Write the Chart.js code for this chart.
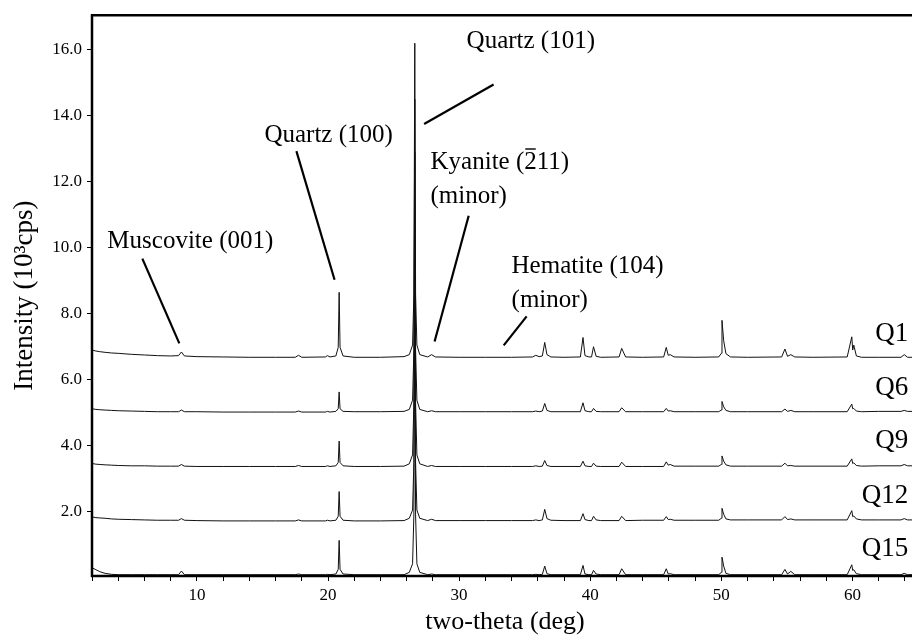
<!DOCTYPE html>
<html>
<head>
<meta charset="utf-8">
<script src="https://cdn.jsdelivr.net/npm/chart.js@4.4.1/dist/chart.umd.min.js"></script>
<style>
  html, body { margin: 0; padding: 0; background: #fff; overflow: hidden; }
  #wrap { width: 940px; height: 638px; }
</style>
</head>
<body>
<div id="wrap"><canvas id="c" width="940" height="638"></canvas></div>
<script>
// ---- data ----
const twoTheta = [
  2.0, 2.3, 2.6, 3.0, 3.5, 4, 5, 6, 7, 8,
  8.6, 8.82, 9.05,
  10, 12, 14, 16,
  17.5, 17.75, 18.0,
  19.8, 19.96, 20.15,
  20.6, 20.78, 20.85, 20.92, 21.15,
  22, 24, 25.8,
  26.2, 26.45, 26.55, 26.62, 26.68, 26.78, 27.0,
  27.6, 27.9, 28.2,
  30, 32, 34,
  35.6, 35.85, 36.1,
  36.35, 36.53, 36.7, 37.0,
  38,
  39.25, 39.45, 39.6, 39.9,
  40.1, 40.25, 40.45, 40.8,
  42.2, 42.4, 42.7,
  44,
  45.6, 45.8, 45.95, 46.1, 46.4,
  48,
  49.8, 50.0, 50.05, 50.18, 50.35, 50.7,
  52,
  54.6, 54.85, 55.05, 55.3, 55.6,
  57,
  59.6, 59.95, 60.02, 60.1, 60.3, 60.7,
  62,
  63.7, 63.95, 64.2, 65
];

const q1 = [
  6.90, 6.87, 6.85, 6.83, 6.81, 6.80, 6.77, 6.75, 6.73, 6.72,
  6.73, 6.84, 6.72,
  6.70, 6.69, 6.68, 6.68,
  6.68, 6.74, 6.68,
  6.69, 6.73, 6.69,
  6.72, 6.98, 8.65, 6.98, 6.72,
  6.68, 6.68, 6.70,
  6.76, 7.05, 8.60, 16.20, 8.60, 7.05, 6.76,
  6.69, 6.76, 6.69,
  6.68, 6.68, 6.68,
  6.69, 6.74, 6.70,
  6.72, 7.13, 6.76, 6.69,
  6.68,
  6.69, 7.28, 6.73, 6.69,
  6.69, 7.00, 6.71, 6.68,
  6.69, 6.95, 6.69,
  6.68,
  6.69, 6.98, 6.74, 6.76, 6.69,
  6.68,
  6.69, 6.80, 7.80, 7.18, 6.79, 6.69,
  6.68,
  6.69, 6.93, 6.71, 6.76, 6.69,
  6.68,
  6.69, 7.30, 6.90, 7.05, 6.72, 6.68,
  6.68,
  6.68, 6.76, 6.68, 6.68
];

const q6 = [
  5.12, 5.10, 5.09, 5.08, 5.07, 5.06, 5.05, 5.04, 5.03, 5.03,
  5.03, 5.08, 5.03,
  5.03, 5.02, 5.02, 5.02,
  5.02, 5.05, 5.02,
  5.02, 5.04, 5.02,
  5.04, 5.12, 5.63, 5.12, 5.04,
  5.03, 5.03, 5.04,
  5.10, 5.38, 6.90, 14.50, 6.90, 5.38, 5.10,
  5.03, 5.06, 5.03,
  5.03, 5.03, 5.03,
  5.03, 5.05, 5.03,
  5.05, 5.28, 5.07, 5.03,
  5.03,
  5.03, 5.30, 5.06, 5.03,
  5.03, 5.13, 5.04, 5.03,
  5.03, 5.15, 5.03,
  5.03,
  5.03, 5.13, 5.05, 5.06, 5.03,
  5.03,
  5.03, 5.08, 5.34, 5.18, 5.07, 5.03,
  5.03,
  5.03, 5.11, 5.04, 5.07, 5.03,
  5.03,
  5.03, 5.26, 5.12, 5.13, 5.05, 5.03,
  5.04,
  5.04, 5.07, 5.04, 5.04
];

const q9 = [
  3.46, 3.44, 3.43, 3.42, 3.41, 3.40, 3.39, 3.39, 3.38, 3.38,
  3.38, 3.43, 3.38,
  3.37, 3.37, 3.37, 3.37,
  3.37, 3.40, 3.37,
  3.37, 3.39, 3.37,
  3.39, 3.49, 4.14, 3.49, 3.39,
  3.37, 3.37, 3.38,
  3.45, 3.72, 5.30, 12.90, 5.30, 3.72, 3.45,
  3.37, 3.40, 3.37,
  3.37, 3.37, 3.37,
  3.37, 3.39, 3.37,
  3.38, 3.55, 3.40, 3.37,
  3.37,
  3.37, 3.53, 3.39, 3.37,
  3.37, 3.47, 3.38, 3.37,
  3.37, 3.50, 3.37,
  3.37,
  3.37, 3.51, 3.41, 3.43, 3.38,
  3.38,
  3.38, 3.43, 3.69, 3.53, 3.42, 3.38,
  3.38,
  3.38, 3.47, 3.39, 3.40, 3.38,
  3.38,
  3.38, 3.60, 3.46, 3.48, 3.40, 3.38,
  3.39,
  3.39, 3.43, 3.39, 3.39
];

const q12 = [
  1.84, 1.82, 1.81, 1.80, 1.78, 1.77, 1.76, 1.75, 1.74, 1.74,
  1.74, 1.79, 1.74,
  1.73, 1.72, 1.72, 1.72,
  1.72, 1.75, 1.72,
  1.72, 1.74, 1.72,
  1.74, 1.86, 2.61, 1.86, 1.74,
  1.72, 1.72, 1.73,
  1.80, 2.05, 3.50, 9.60, 3.50, 2.05, 1.80,
  1.73, 1.77, 1.73,
  1.73, 1.73, 1.73,
  1.73, 1.75, 1.73,
  1.75, 2.07, 1.79, 1.74,
  1.73,
  1.73, 1.94, 1.76, 1.73,
  1.73, 1.86, 1.75, 1.73,
  1.73, 1.86, 1.73,
  1.74,
  1.74, 1.85, 1.76, 1.77, 1.74,
  1.74,
  1.74, 1.80, 2.10, 1.92, 1.78, 1.75,
  1.75,
  1.75, 1.85, 1.76, 1.78, 1.75,
  1.75,
  1.75, 2.03, 1.85, 1.87, 1.78, 1.75,
  1.75,
  1.75, 1.79, 1.75, 1.75
];

const q15 = [
  0.30, 0.24, 0.18, 0.13, 0.10, 0.09, 0.09, 0.09, 0.09, 0.09,
  0.09, 0.20, 0.09,
  0.09, 0.09, 0.09, 0.09,
  0.09, 0.11, 0.09,
  0.09, 0.10, 0.09,
  0.11, 0.25, 1.13, 0.25, 0.11,
  0.09, 0.09, 0.09,
  0.16, 0.42, 1.90, 9.30, 1.90, 0.42, 0.16,
  0.09, 0.11, 0.09,
  0.09, 0.09, 0.09,
  0.09, 0.10, 0.09,
  0.10, 0.35, 0.12, 0.09,
  0.09,
  0.09, 0.37, 0.11, 0.09,
  0.09, 0.22, 0.11, 0.09,
  0.09, 0.27, 0.09,
  0.09,
  0.09, 0.27, 0.11, 0.12, 0.09,
  0.09,
  0.09, 0.16, 0.62, 0.35, 0.13, 0.09,
  0.09,
  0.09, 0.25, 0.11, 0.19, 0.09,
  0.09,
  0.09, 0.39, 0.22, 0.24, 0.12, 0.09,
  0.09,
  0.09, 0.13, 0.09, 0.09
];

const seriesNames = ['Q1', 'Q6', 'Q9', 'Q12', 'Q15'];
const seriesValues = [q1, q6, q9, q12, q15];

const xTickValues = [2,4,6,8,10,12,14,16,18,20,22,24,26,28,30,32,34,36,38,40,42,44,46,48,50,52,54,56,58,60,62,64];
const xLabelValues = [10, 20, 30, 40, 50, 60];
const yTickValues = [2, 4, 6, 8, 10, 12, 14, 16];

// label anchors in data units [two-theta, intensity]
const seriesLabelPos = [[64.25, 7.40], [64.25, 5.74], [64.25, 4.14], [64.25, 2.48], [64.25, 0.88]];
// barIndex: index of a character that carries an overbar (Miller index notation)
const annotations = [
  { lines: ['Muscovite (001)'], at: [3.17, 10.18], from: [5.84, 9.67], to: [8.66, 7.10] },
  { lines: ['Quartz (100)'], at: [15.15, 13.41], from: [17.59, 12.93], to: [20.50, 9.03] },
  { lines: ['Quartz (101)'], at: [30.57, 16.25], from: [32.63, 14.95], to: [27.33, 13.75] },
  { lines: ['Kyanite (211)', '(minor)'], at: [27.82, 12.60], from: [30.73, 10.97], to: [28.13, 7.16], barIndex: 9 },
  { lines: ['Hematite (104)', '(minor)'], at: [34.00, 9.43], from: [35.15, 7.92], to: [33.40, 7.04] }
];

// ---- chart ----
const FONT = "'Liberation Serif', 'Times New Roman', serif";

const datasets = seriesNames.map((name, i) => ({
  label: name,
  data: twoTheta.map((x, k) => ({ x: x, y: seriesValues[i][k] })),
  borderColor: '#111',
  borderWidth: 1,
  pointRadius: 0,
  tension: 0,
  fill: false
}));

const framePlugin = {
  id: 'frame',
  afterDatasetsDraw(chart) {
    const { ctx, chartArea: a, scales } = chart;
    ctx.save();
    ctx.strokeStyle = '#000';
    ctx.lineCap = 'butt';
    ctx.lineWidth = 2.5;
    ctx.beginPath(); ctx.moveTo(a.left - 1, a.top); ctx.lineTo(a.right + 5, a.top); ctx.stroke();
    ctx.beginPath(); ctx.moveTo(a.left, a.top - 1); ctx.lineTo(a.left, a.bottom + 1); ctx.stroke();
    ctx.beginPath(); ctx.moveTo(a.left - 1, a.bottom); ctx.lineTo(a.right + 5, a.bottom); ctx.stroke();

    const xs = scales.x, ys = scales.y;
    ctx.fillStyle = '#000';
    ctx.font = '25px ' + FONT;
    ctx.textBaseline = 'middle';
    ctx.textAlign = 'left';
    const lh = 34;
    annotations.forEach(an => {
      const tx = xs.getPixelForValue(an.at[0]);
      const ty = ys.getPixelForValue(an.at[1]);
      an.lines.forEach((t, j) => ctx.fillText(t, tx, ty + j * lh));
      if (an.barIndex !== undefined) {
        const t = an.lines[0];
        const bx = tx + ctx.measureText(t.slice(0, an.barIndex)).width;
        const bw = ctx.measureText(t[an.barIndex]).width;
        ctx.lineWidth = 1.4;
        ctx.beginPath();
        ctx.moveTo(bx + 1, ty - 13); ctx.lineTo(bx + bw - 1, ty - 13);
        ctx.stroke();
      }
      ctx.lineWidth = 2.2;
      ctx.beginPath();
      ctx.moveTo(xs.getPixelForValue(an.from[0]), ys.getPixelForValue(an.from[1]));
      ctx.lineTo(xs.getPixelForValue(an.to[0]), ys.getPixelForValue(an.to[1]));
      ctx.stroke();
    });
    ctx.font = '27px ' + FONT;
    ctx.textAlign = 'right';
    seriesNames.forEach((n, i) => {
      ctx.fillText(n, xs.getPixelForValue(seriesLabelPos[i][0]), ys.getPixelForValue(seriesLabelPos[i][1]));
    });
    ctx.restore();
  }
};

new Chart(document.getElementById('c'), {
  type: 'line',
  data: { datasets },
  options: {
    responsive: false,
    animation: false,
    devicePixelRatio: 1,
    layout: { padding: { top: 14, right: 22, left: 0, bottom: 0 } },
    plugins: { legend: { display: false }, tooltip: { enabled: false } },
    scales: {
      x: {
        type: 'linear',
        min: 2, max: 65,
        afterBuildTicks(s) { s.ticks = xTickValues.map(v => ({ value: v })); },
        afterFit(s) { s.height = 62; },
        ticks: {
          autoSkip: false, maxRotation: 0, minRotation: 0,
          callback: v => (xLabelValues.includes(v) ? String(v) : ''),
          font: { family: FONT, size: 17 }, color: '#000', padding: 4
        },
        grid: { drawOnChartArea: false, drawTicks: true, tickLength: 5, color: '#000', lineWidth: 1 },
        border: { display: false },
        title: { display: true, text: 'two-theta (deg)', color: '#000',
                 font: { family: FONT, size: 26 }, padding: { top: 0, bottom: 0 } }
      },
      y: {
        type: 'linear',
        min: 0.05, max: 17.05,
        afterBuildTicks(s) { s.ticks = yTickValues.map(v => ({ value: v })); },
        afterFit(s) { s.width = 92; },
        ticks: {
          callback: v => Number(v).toFixed(1),
          font: { family: FONT, size: 17 }, color: '#000', padding: 5
        },
        grid: { drawOnChartArea: false, drawTicks: true, tickLength: 5, color: '#000', lineWidth: 1 },
        border: { display: false },
        title: { display: true, text: 'Intensity (10\u00B3cps)', color: '#000',
                 font: { family: FONT, size: 27 }, padding: { top: 9, bottom: 0 } }
      }
    }
  },
  plugins: [framePlugin]
});
</script>
</body>
</html>
